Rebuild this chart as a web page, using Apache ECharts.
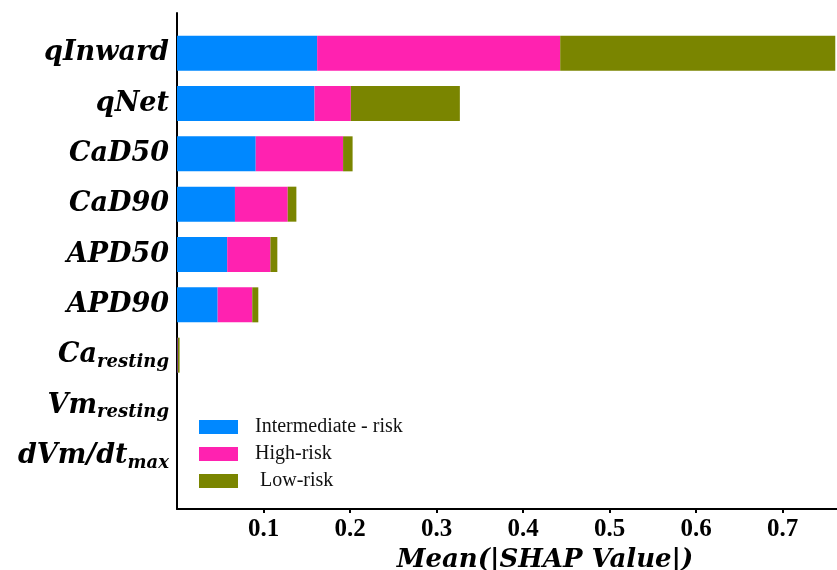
<!DOCTYPE html>
<html>
<head>
<meta charset="utf-8">
<script src="https://cdn.jsdelivr.net/npm/echarts@6/dist/echarts.min.js"></script>
<style>
  html, body { margin: 0; padding: 0; background: #fff; }
  #chart { width: 837px; height: 570px; }
</style>
</head>
<body>
<div id="chart"></div>
<script>
// features, top to bottom; '_' marks the start of a subscript
const features = ['qInward', 'qNet', 'CaD50', 'CaD90', 'APD50', 'APD90', 'Ca_resting', 'Vm_resting', 'dVm/dt_max'];
const intermediateRisk = [0.162, 0.159, 0.091, 0.067, 0.058, 0.047, 0.0005, 0, 0];
const highRisk = [0.281, 0.042, 0.101, 0.061, 0.050, 0.040, 0.0005, 0, 0];
const lowRisk = [0.318, 0.126, 0.011, 0.010, 0.008, 0.007, 0.002, 0, 0];
const seriesNames = ['Intermediate - risk', 'High-risk', ' Low-risk'];
const colors = ['#0088FF', '#FF22B0', '#7A8500'];
const xMax = 0.763;

const chart = echarts.init(document.getElementById('chart'));

const labelFont = 'DejaVu Serif';
const tickFont = 'Liberation Serif';

function fmtFeature(name) {
  const parts = name.split('_');
  if (parts.length === 1) return '{b|' + name + '}';
  return '{b|' + parts[0] + '}{s|' + parts[1] + '}';
}

const values = [intermediateRisk, highRisk, lowRisk];

const option = {
  backgroundColor: '#fff',
  animation: false,
  color: colors,
  legend: {
    orient: 'vertical',
    left: 194,
    top: 412,
    itemWidth: 39,
    itemHeight: 14,
    itemGap: 7,
    icon: 'rect',
    textStyle: { fontFamily: tickFont, fontSize: 20, color: '#111', padding: [0, 0, 0, 12] },
    data: seriesNames
  },
  grid: [
    { left: 177, right: 0, top: 28, height: 453, outerBoundsMode: 'none' },
    { left: 177, right: 0, top: 13, bottom: 61, outerBoundsMode: 'none' }
  ],
  xAxis: [
    {
      gridIndex: 0, type: 'value', min: 0, max: xMax, show: false
    },
    {
      gridIndex: 1, type: 'value', min: 0, max: xMax, interval: 0.1,
      axisLine: { show: true, lineStyle: { color: '#000', width: 2 } },
      axisTick: { show: true, length: 4, lineStyle: { color: '#000', width: 2 } },
      splitLine: { show: false },
      axisLabel: {
        showMinLabel: false, showMaxLabel: false,
        fontFamily: tickFont, fontWeight: 'bold', fontSize: 25, color: '#000', margin: 8,
        formatter: v => v.toFixed(1)
      },
      name: 'Mean(|SHAP Value|)',
      nameLocation: 'middle',
      nameGap: 30,
      nameTextStyle: {
        fontFamily: labelFont, fontWeight: 'bold', fontStyle: 'italic', fontSize: 26, color: '#000',
        padding: [0, 0, 0, 76]
      }
    }
  ],
  yAxis: [
    {
      gridIndex: 0, type: 'category', inverse: true, data: features,
      axisLine: { show: false }, axisTick: { show: false },
      axisLabel: {
        margin: 8,
        formatter: fmtFeature,
        rich: {
          b: { fontFamily: labelFont, fontWeight: 'bold', fontStyle: 'italic', fontSize: 27, color: '#000', lineHeight: 30 },
          s: { fontFamily: labelFont, fontWeight: 'bold', fontStyle: 'italic', fontSize: 18, color: '#000', padding: [14, 0, 0, 0] }
        }
      }
    },
    {
      gridIndex: 1, type: 'value',
      axisLine: { show: true, lineStyle: { color: '#000', width: 2 } },
      axisTick: { show: false }, axisLabel: { show: false }, splitLine: { show: false }
    }
  ],
  series: seriesNames.map((name, i) => ({
    name,
    type: 'bar',
    stack: 'shap',
    xAxisIndex: 0,
    yAxisIndex: 0,
    barWidth: 35,
    itemStyle: { color: colors[i] },
    data: values[i]
  }))
};

chart.setOption(option);
</script>
</body>
</html>
